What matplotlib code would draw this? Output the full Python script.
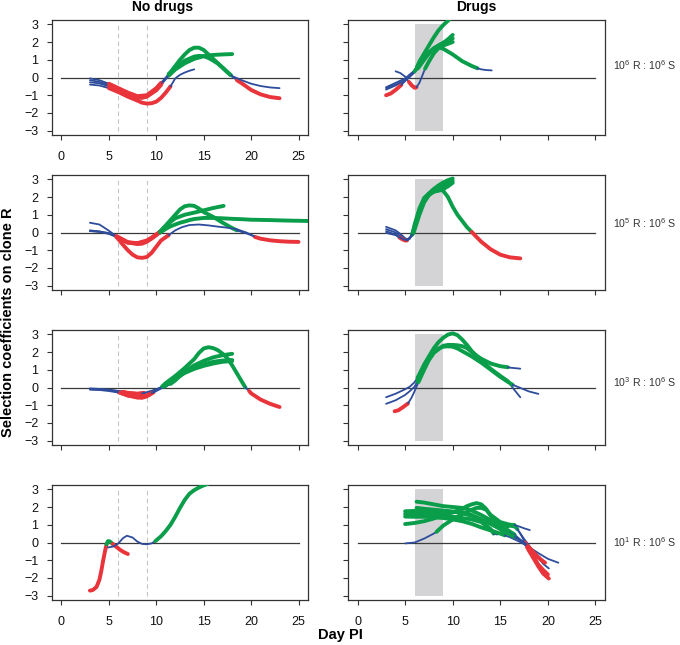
import matplotlib
matplotlib.use('Agg')
import matplotlib.pyplot as plt

plt.rcParams['font.family'] = ['Liberation Sans', 'DejaVu Sans']
plt.rcParams['mathtext.fontset'] = 'custom'
plt.rcParams['mathtext.rm'] = 'Liberation Sans'
plt.rcParams['mathtext.it'] = 'Liberation Sans:italic'
plt.rcParams['mathtext.bf'] = 'Liberation Sans:bold'

RED = '#e8343a'
GREEN = '#0a9e4b'
BLUE = '#2e4c9c'

# each curve = list of segments (colour code, days, selection coefficient)
# b = not significant, r = negative, g = positive

# ---- 10^6 R : 10^6 S, no drugs
nd6_a = [('b', [3, 4, 5], [-0.05, -0.15, -0.35]),
         ('r', [5, 6, 7, 8, 9, 10, 10.5], [-0.35, -0.6, -0.85, -1.05, -1.0, -0.6, -0.3]),
         ('b', [10.5, 11, 11.3], [-0.3, 0.0, 0.2]),
         ('g', [11.3, 11.5, 12, 12.5, 13, 13.5, 14, 14.5, 15, 15.5, 16, 16.5, 17, 17.5, 17.8],
          [0.2, 0.3, 0.65, 1.0, 1.3, 1.55, 1.68, 1.68, 1.55, 1.3, 1.05, 0.8, 0.55, 0.3, 0.15]),
         ('b', [17.8, 18, 18.5], [0.15, 0.05, -0.15]),
         ('r', [18.5, 19, 20, 21, 22, 23], [-0.15, -0.32, -0.7, -0.95, -1.1, -1.17])]
nd6_b = [('b', [3, 4, 5], [-0.15, -0.25, -0.42]),
         ('r', [5, 6, 7, 8, 8.5, 9, 10, 10.5], [-0.42, -0.68, -0.92, -1.12, -1.15, -1.08, -0.72, -0.42]),
         ('b', [10.5, 11, 11.3], [-0.42, -0.1, 0.1]),
         ('g', [11.3, 11.5, 12, 13, 14, 14.5, 15, 15.5, 16, 16.5, 17, 17.5, 17.9],
          [0.1, 0.25, 0.55, 0.95, 1.18, 1.22, 1.2, 1.1, 0.95, 0.78, 0.55, 0.3, 0.12]),
         ('b', [17.9, 18, 19, 20, 21, 22, 23], [0.12, 0.08, -0.15, -0.35, -0.48, -0.56, -0.6])]
nd6_c = [('b', [3, 4, 5], [-0.27, -0.33, -0.5]),
         ('r', [5, 6, 7, 8, 9, 10, 10.6], [-0.5, -0.72, -0.98, -1.15, -1.05, -0.68, -0.3]),
         ('b', [10.6, 11, 11.4], [-0.3, -0.05, 0.15]),
         ('g', [11.4, 12, 13, 14, 15, 16, 17, 18], [0.15, 0.45, 0.8, 1.05, 1.2, 1.27, 1.3, 1.32])]
nd6_d = [('b', [3, 4, 5], [-0.4, -0.45, -0.6]),
         ('r', [5, 6, 7, 8, 8.5, 9, 9.5, 10, 10.5, 11, 11.5],
          [-0.6, -0.82, -1.08, -1.3, -1.42, -1.47, -1.45, -1.36, -1.15, -0.85, -0.5]),
         ('b', [11.5, 12, 12.5, 13, 13.5, 14], [-0.5, -0.05, 0.15, 0.28, 0.38, 0.46])]

# ---- 10^6 R : 10^6 S, drugs
d6_a = [('b', [3, 4, 5, 6, 6.25], [-0.55, -0.3, -0.05, 0.4, 0.6]),
        ('g', [6.25, 6.5, 7, 7.5, 8, 8.5, 9, 9.5, 10], [0.6, 0.9, 1.35, 1.8, 2.25, 2.65, 2.95, 3.2, 3.45])]
d6_b = [('b', [3, 4, 5, 6, 6.3], [-0.68, -0.45, -0.15, 0.3, 0.5]),
        ('g', [6.3, 7, 7.5, 8, 8.5, 9, 9.5, 10], [0.5, 1.05, 1.4, 1.65, 1.8, 1.95, 2.15, 2.4])]
d6_c = [('r', [3, 3.5, 4, 4.6], [-1.0, -0.9, -0.7, -0.42]),
        ('b', [4.6, 5, 5.5, 6, 6.4], [-0.42, -0.2, 0.05, 0.3, 0.55]),
        ('g', [6.4, 7, 7.5, 8, 8.5, 9, 9.5, 10], [0.55, 1.0, 1.35, 1.6, 1.8, 1.95, 2.05, 2.2])]
d6_d = [('b', [4, 4.5, 5, 5.4], [0.35, 0.25, 0.05, -0.25]),
        ('r', [5.4, 5.7, 6, 6.2], [-0.25, -0.45, -0.58, -0.55]),
        ('b', [6.2, 6.5, 6.8, 7.1], [-0.55, -0.3, 0.1, 0.5]),
        ('g', [7.1, 7.5, 8, 8.5, 9, 9.5, 10], [0.5, 0.9, 1.35, 1.65, 1.8, 1.9, 2.0])]
d6_e = [('b', [3, 4, 5, 5.5, 6], [-0.6, -0.4, -0.15, 0.05, 0.35]),
        ('g', [6, 6.5, 7, 7.5, 8, 8.5, 9, 10, 11, 12, 12.6],
         [0.35, 0.75, 1.1, 1.4, 1.6, 1.7, 1.62, 1.3, 0.92, 0.65, 0.52]),
        ('b', [12.6, 13, 13.5, 14.1], [0.52, 0.46, 0.42, 0.4])]

# ---- 10^5 R : 10^6 S, no drugs
nd5_a = [('b', [3, 4, 5, 5.8], [0.55, 0.45, 0.1, -0.22]),
         ('r', [5.8, 6, 7, 8, 8.5, 9, 9.5, 10, 10.3], [-0.22, -0.3, -0.55, -0.65, -0.63, -0.52, -0.35, -0.15, 0.0]),
         ('g', [10.3, 11, 11.5, 12, 12.5, 13, 13.5, 14, 14.5, 15, 16, 17, 18, 18.5],
          [0.0, 0.4, 0.7, 1.0, 1.3, 1.48, 1.53, 1.5, 1.35, 1.15, 0.88, 0.55, 0.25, 0.12]),
         ('b', [18.5, 19, 19.5, 20, 20.4], [0.12, 0.03, -0.05, -0.15, -0.25]),
         ('r', [20.4, 21, 22, 23, 24, 25], [-0.25, -0.35, -0.44, -0.49, -0.52, -0.53])]
nd5_b = [('b', [3, 4, 5, 5.8], [0.1, 0.05, -0.05, -0.25]),
         ('r', [5.8, 6.5, 7, 7.5, 8, 8.5, 9, 9.5, 10, 10.5, 11.3],
          [-0.25, -0.7, -1.0, -1.25, -1.4, -1.43, -1.38, -1.15, -0.8, -0.45, -0.15]),
         ('b', [11.3, 12, 12.7, 13.5, 14.5, 15.5, 16.5, 17.5, 18.5, 19.5, 20.3],
          [-0.15, 0.12, 0.3, 0.42, 0.45, 0.4, 0.33, 0.27, 0.18, 0.0, -0.2])]
nd5_c = [('b', [3, 4, 5, 5.8], [0.08, 0.03, -0.08, -0.25]),
         ('r', [5.8, 6, 7, 8, 9, 9.5, 10, 10.3], [-0.25, -0.32, -0.58, -0.62, -0.48, -0.3, -0.12, 0.0]),
         ('g', [10.3, 11, 11.5, 12, 13, 14, 15, 16, 17.1], [0.0, 0.35, 0.6, 0.8, 1.0, 1.12, 1.25, 1.38, 1.5])]
nd5_d = [('b', [3, 4, 5, 5.8], [0.12, 0.06, -0.03, -0.2]),
         ('r', [5.8, 6.5, 7, 8, 9, 9.5, 10, 10.4], [-0.2, -0.4, -0.55, -0.6, -0.45, -0.3, -0.1, 0.0]),
         ('g', [10.4, 11, 11.5, 12, 12.5, 13, 13.5, 14, 15, 16, 17, 18, 19, 20, 22, 24, 26],
          [0.0, 0.2, 0.35, 0.45, 0.55, 0.62, 0.7, 0.76, 0.82, 0.82, 0.8, 0.77, 0.75, 0.72, 0.7, 0.67, 0.65])]

# ---- 10^5 R : 10^6 S, drugs
d5_a = [('b', [3, 4, 4.5, 5, 5.3, 5.7], [0.32, 0.12, -0.08, -0.32, -0.38, -0.15]),
        ('g', [5.7, 6, 6.5, 7, 7.5, 8, 8.5, 9, 9.5, 10, 10.5, 11, 11.5, 12],
         [-0.15, 0.35, 1.25, 1.85, 2.15, 2.3, 2.42, 2.35, 2.0, 1.45, 1.0, 0.65, 0.3, 0.03]),
        ('r', [12, 12.5, 13, 14, 15, 16, 17.1], [0.03, -0.25, -0.52, -0.95, -1.25, -1.4, -1.46])]
d5_b = [('b', [3, 4, 4.5, 5, 5.3, 5.8], [0.19, 0.0, -0.2, -0.4, -0.42, -0.1]),
        ('g', [5.8, 6, 6.5, 7, 7.5, 8, 8.5, 9, 9.5, 10], [-0.1, 0.25, 1.1, 1.8, 2.2, 2.45, 2.65, 2.82, 2.95, 3.04])]
d5_c = [('b', [3, 4, 4.4], [0.08, -0.12, -0.28]),
        ('r', [4.4, 4.7, 5.0, 5.2], [-0.28, -0.38, -0.45, -0.45]),
        ('b', [5.2, 5.5, 5.8], [-0.45, -0.35, -0.05]),
        ('g', [5.8, 6, 6.5, 7, 7.5, 8, 8.5, 9, 9.5, 10], [-0.05, 0.45, 1.35, 1.95, 2.2, 2.3, 2.45, 2.65, 2.8, 2.9])]
d5_d = [('b', [3, 4, 4.5, 5, 5.5, 5.9], [-0.02, -0.15, -0.3, -0.42, -0.32, 0.0]),
        ('g', [5.9, 6.5, 7, 7.5, 8, 8.5, 9, 9.5, 10], [0.0, 1.0, 1.7, 2.1, 2.3, 2.35, 2.45, 2.6, 2.8])]

# ---- 10^3 R : 10^6 S, no drugs
nd3_a = [('b', [3, 4, 5, 6, 6.4], [-0.05, -0.08, -0.12, -0.2, -0.25]),
         ('r', [6.4, 7, 8, 8.7], [-0.25, -0.32, -0.36, -0.3]),
         ('b', [8.7, 9, 10, 10.6], [-0.3, -0.27, -0.1, 0.05]),
         ('g', [10.6, 11, 12, 13, 14, 14.5, 15, 15.5, 16, 16.5, 17, 17.5, 18, 18.5, 19, 19.4],
          [0.05, 0.25, 0.65, 1.1, 1.6, 1.95, 2.2, 2.27, 2.22, 2.1, 1.9, 1.65, 1.25, 0.8, 0.35, 0.0]),
         ('b', [19.4, 19.8], [0.0, -0.2]),
         ('r', [19.8, 20, 21, 22, 23], [-0.2, -0.33, -0.68, -0.92, -1.1])]
nd3_b = [('b', [3, 4, 5, 6], [-0.1, -0.12, -0.15, -0.25]),
         ('r', [6, 7, 8, 8.5, 9, 9.7], [-0.25, -0.45, -0.57, -0.58, -0.5, -0.28]),
         ('b', [9.7, 10, 10.5, 10.9], [-0.28, -0.2, -0.06, 0.05]),
         ('g', [10.9, 11, 12, 13, 14, 15, 16, 17, 18], [0.05, 0.1, 0.5, 0.85, 1.1, 1.3, 1.45, 1.52, 1.55])]
nd3_c = [('b', [3, 4, 5, 6, 6.5], [-0.08, -0.1, -0.14, -0.2, -0.25]),
         ('r', [6.5, 7, 8, 8.5], [-0.25, -0.3, -0.35, -0.33]),
         ('b', [8.5, 9, 10, 11, 11.5], [-0.33, -0.28, -0.12, 0.08, 0.2]),
         ('g', [11.5, 12, 13, 14, 15, 16, 17, 18], [0.2, 0.4, 0.9, 1.25, 1.5, 1.7, 1.82, 1.9])]
nd3_d = [('b', [3, 4, 5, 6.2], [-0.12, -0.14, -0.2, -0.3]),
         ('r', [6.2, 7, 8, 8.5, 9, 9.5], [-0.3, -0.45, -0.52, -0.52, -0.45, -0.32]),
         ('b', [9.5, 10, 10.7], [-0.32, -0.15, 0.05]),
         ('g', [10.7, 11, 12, 13, 14, 15, 16, 17, 18], [0.05, 0.15, 0.5, 0.82, 1.05, 1.22, 1.35, 1.45, 1.49])]

# ---- 10^3 R : 10^6 S, drugs
d3_a = [('b', [3, 4, 5, 5.5, 6, 6.3], [-0.55, -0.35, -0.1, 0.05, 0.3, 0.55]),
        ('g', [6.3, 6.5, 7, 7.5, 8, 8.5, 9, 9.5, 10, 10.5, 11, 11.5, 12, 13, 14, 15, 15.8],
         [0.55, 0.75, 1.3, 1.75, 2.2, 2.55, 2.8, 2.98, 3.05, 2.95, 2.7, 2.4, 2.05, 1.5, 1.05, 0.65, 0.35]),
        ('b', [15.8, 16, 16.5, 17.1], [0.35, 0.2, -0.15, -0.55])]
d3_b = [('b', [3, 4, 5, 5.5, 6, 6.3], [-0.92, -0.72, -0.42, -0.2, 0.05, 0.35]),
        ('g', [6.3, 6.5, 7, 8, 9, 9.5, 10, 10.5, 11, 11.5, 12, 12.5, 13, 14, 15, 15.8],
         [0.35, 0.6, 1.2, 1.95, 2.35, 2.4, 2.4, 2.38, 2.33, 2.22, 2.0, 1.8, 1.62, 1.35, 1.2, 1.14]),
        ('b', [15.8, 16, 17.1], [1.14, 1.12, 1.06])]
d3_c = [('r', [3.9, 4.3, 4.8, 5.3], [-1.34, -1.28, -1.1, -0.9]),
        ('b', [5.3, 5.7, 6, 6.4], [-0.9, -0.55, -0.2, 0.3]),
        ('g', [6.4, 7, 7.5, 8, 8.5, 9, 9.5, 10, 10.5, 11, 12, 13, 14, 15, 16, 16.3],
         [0.3, 1.0, 1.55, 1.95, 2.2, 2.3, 2.32, 2.3, 2.2, 2.05, 1.75, 1.4, 1.0, 0.6, 0.25, 0.15]),
        ('b', [16.3, 17, 18, 19], [0.15, 0.0, -0.22, -0.36])]

# ---- 10^1 R : 10^6 S, no drugs
nd1_a = [('r', [3, 3.3, 3.7, 4.0, 4.2, 4.4, 4.6, 4.75], [-2.71, -2.68, -2.5, -2.1, -1.6, -1.0, -0.47, -0.1]),
         ('g', [4.75, 4.9, 5.1, 5.4], [-0.1, 0.08, 0.06, -0.08]),
         ('r', [5.4, 5.8, 6.2, 6.6, 7.0], [-0.08, -0.25, -0.42, -0.55, -0.65])]
nd1_b = [('b', [4.9, 5.5, 6, 6.5, 6.9, 7.5, 8, 8.5, 9, 9.5, 9.9],
          [-0.28, -0.22, -0.05, 0.25, 0.38, 0.28, 0.05, -0.08, -0.1, -0.05, 0.08]),
         ('g', [9.9, 10.5, 11, 11.5, 12, 12.5, 13, 13.5, 14, 14.5, 15, 15.5],
          [0.08, 0.35, 0.65, 1.0, 1.45, 1.95, 2.4, 2.75, 2.95, 3.1, 3.22, 3.32])]

# ---- 10^1 R : 10^6 S, drugs
d1_a = [('g', [6.2, 7, 8, 9, 10, 11, 11.5, 12, 13, 14, 15, 15.5, 16, 16.5],
         [2.3, 2.25, 2.15, 2.05, 2.0, 1.95, 1.9, 1.8, 1.55, 1.25, 0.95, 0.8, 0.62, 0.45]),
        ('b', [16.5, 17, 17.5, 17.8], [0.45, 0.2, -0.05, -0.25]),
        ('r', [17.8, 18, 18.5, 19, 19.5, 20.1], [-0.25, -0.45, -0.9, -1.35, -1.75, -2.03])]
d1_b = [('g', [5, 6, 7, 8, 9, 10, 10.5, 11, 11.5, 12, 12.5, 13, 13.5, 14, 14.5, 15, 15.5, 16, 16.5],
         [1.76, 1.78, 1.75, 1.7, 1.65, 1.7, 1.8, 1.9, 2.05, 2.15, 2.22, 2.15, 1.9, 1.5, 1.15, 0.95, 0.9, 0.95, 0.9]),
        ('b', [16.5, 17, 17.5, 18, 18.5, 19.2], [0.9, 0.6, 0.2, -0.15, -0.55, -0.85])]
d1_c = [('g', [5, 6, 7, 8, 9, 10, 11, 12, 13, 14, 14.3], [1.61, 1.6, 1.58, 1.55, 1.5, 1.45, 1.38, 1.3, 1.15, 0.75, 0.5]),
        ('b', [14.3, 14.7, 15.2], [0.5, 0.45, 0.6]),
        ('g', [15.2, 15.5, 16, 16.5, 16.8], [0.6, 0.8, 1.0, 0.95, 0.75]),
        ('b', [16.8, 17.2, 17.6], [0.75, 0.4, 0.0]),
        ('r', [17.6, 18, 18.5, 19, 19.5, 20], [0.0, -0.35, -0.8, -1.25, -1.55, -1.8])]
d1_d = [('g', [5, 6, 7, 8, 9, 10, 11, 12, 13, 14, 15, 15.5], [1.46, 1.45, 1.45, 1.42, 1.38, 1.3, 1.2, 1.05, 0.85, 0.68, 0.5, 0.4]),
        ('b', [15.5, 16, 17, 18, 19, 20, 21.1], [0.4, 0.3, 0.05, -0.25, -0.6, -0.92, -1.14])]
d1_e = [('g', [5, 6, 7, 8, 9, 10, 10.5, 11, 12, 13, 14, 15, 16],
         [1.04, 1.1, 1.2, 1.35, 1.55, 1.7, 1.75, 1.72, 1.55, 1.3, 1.05, 0.8, 0.55]),
        ('b', [16, 17, 17.5, 18, 18.5, 19, 19.5, 20.1], [0.55, 0.2, 0.0, -0.2, -0.5, -0.85, -1.2, -1.46])]
d1_f = [('b', [5, 6, 7, 8, 8.3], [-0.05, 0.0, 0.22, 0.5, 0.6]),
        ('g', [8.3, 9, 10, 11, 12, 12.5, 13, 13.5, 14, 15, 16, 16.5],
         [0.6, 0.95, 1.3, 1.6, 1.85, 1.95, 1.95, 1.85, 1.55, 1.15, 1.0, 0.98]),
        ('b', [16.5, 17, 17.5, 18.1], [0.98, 0.9, 0.8, 0.7])]
d1_g = [('g', [6.2, 7, 8, 9, 10, 11, 12, 13, 14, 15, 16, 16.5],
         [1.95, 1.9, 1.85, 1.8, 1.75, 1.65, 1.5, 1.3, 1.05, 0.75, 0.45, 0.3]),
        ('b', [16.5, 17, 17.5, 17.9], [0.3, 0.15, 0.0, -0.2]),
        ('r', [17.9, 18.5, 19, 19.7], [-0.2, -0.55, -0.85, -1.14])]

row_exp = [6, 5, 3, 1]
nodrug_panels = [[nd6_a, nd6_b, nd6_c, nd6_d], [nd5_a, nd5_b, nd5_c, nd5_d],
                 [nd3_a, nd3_b, nd3_c, nd3_d], [nd1_a, nd1_b]]
drug_panels = [[d6_a, d6_b, d6_c, d6_d, d6_e], [d5_a, d5_b, d5_c, d5_d],
               [d3_a, d3_b, d3_c], [d1_a, d1_b, d1_c, d1_d, d1_e, d1_f, d1_g]]
drug_start, drug_end = 6, 9

W, H = 680, 645
fig = plt.figure(figsize=(W / 100, H / 100), dpi=100)

col_left = [52, 348]
col_width = [256, 257]
row_top = [20, 175, 330, 485]
row_h = 115

colmap = {'r': RED, 'g': GREEN, 'b': BLUE}
FRAME = '#333333'


def draw_curve(ax, curve):
    for code, xs, ys in curve:
        lw = 1.3 if code == 'b' else 2.8
        ax.plot(xs, ys, color=colmap[code], lw=lw, solid_capstyle='round',
                solid_joinstyle='round', zorder=3)


for r in range(4):
    for c in range(2):
        rect = [col_left[c] / W, 1 - (row_top[r] + row_h) / H, col_width[c] / W, row_h / H]
        ax = fig.add_axes(rect)
        ax.set_xlim(-1, 26)
        ax.set_ylim(-3.24, 3.24)
        if c == 0:
            for d in (drug_start, drug_end):
                ax.plot([d, d], [-3, 3], color='#c4c4c4', lw=0.8, ls=(0, (4, 3)), zorder=1)
            curves = nodrug_panels[r]
        else:
            ax.fill_between([drug_start, drug_end], -3, 3, color='#d4d4d6', lw=0, zorder=1)
            curves = drug_panels[r]
        ax.plot([0, 25], [0, 0], color='#3a3a3a', lw=0.9, zorder=2)
        for cv in curves:
            draw_curve(ax, cv)

        ax.set_xticks([0, 5, 10, 15, 20, 25])
        ax.set_yticks([-3, -2, -1, 0, 1, 2, 3])
        ax.set_yticklabels(['\u22123', '\u22122', '\u22121', '0', '1', '2', '3'])
        for sp in ax.spines.values():
            sp.set_color(FRAME)
            sp.set_linewidth(0.9)
        ax.tick_params(direction='out', length=3.4, width=0.8, color=FRAME,
                       labelsize=9, labelcolor='#111111')
        ax.tick_params(axis='x', pad=8)
        ax.tick_params(axis='y', pad=6.5)
        if c == 1:
            ax.tick_params(axis='y', labelleft=False)
        if not (r == 3 or (r == 0 and c == 0)):
            ax.tick_params(axis='x', labelbottom=False)

fig.text(163 / W, 1 - 7 / H, 'No drugs', ha='center', va='center', fontsize=10, fontweight='bold')
fig.text(476 / W, 1 - 7 / H, 'Drugs', ha='center', va='center', fontsize=10, fontweight='bold')

label_y = [65, 223, 382, 542]
for r in range(4):
    fig.text(613 / W, 1 - label_y[r] / H, r'$10^{%d}$ R : $10^{6}$ S' % row_exp[r],
             ha='left', va='center', fontsize=7.6, color='#333333')

fig.text(8 / W, 1 - 322 / H, 'Selection coefficients on clone R', rotation=90,
         ha='center', va='center', fontsize=10.5, fontweight='bold')
fig.text(340 / W, 1 - 635 / H, 'Day PI', ha='center', va='center', fontsize=10.5, fontweight='bold')

fig.savefig('out.png', dpi=100)
